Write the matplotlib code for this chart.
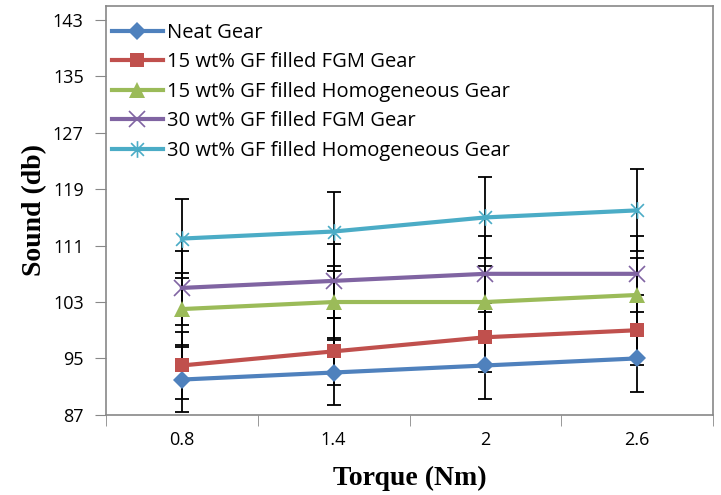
import matplotlib
matplotlib.use("Agg")
import matplotlib.pyplot as plt
from matplotlib.path import Path

torque = ["0.8", "1.4", "2", "2.6"]

neat = [92, 93, 94, 95]
fgm15 = [94, 96, 98, 99]
homo15 = [102, 103, 103, 104]
fgm30 = [105, 106, 107, 107]
homo30 = [112, 113, 115, 116]

# error bars (about +/-5 %)
neat_err = [4.6, 4.65, 4.7, 4.75]
fgm15_err = [4.7, 4.8, 4.9, 4.95]
homo15_err = [5.1, 5.15, 5.15, 5.2]
fgm30_err = [5.25, 5.3, 5.35, 5.35]
homo30_err = [5.6, 5.65, 5.75, 5.8]

labels = ["Neat Gear",
          "15 wt% GF filled FGM Gear",
          "15 wt% GF filled Homogeneous Gear",
          "30 wt% GF filled FGM Gear",
          "30 wt% GF filled Homogeneous Gear"]

# excel-like star marker: x with a vertical bar
star = Path([(-1, -1), (1, 1), (-1, 1), (1, -1), (0, -1.3), (0, 1.3)],
            [Path.MOVETO, Path.LINETO, Path.MOVETO, Path.LINETO, Path.MOVETO, Path.LINETO])

series = [
    (neat, neat_err, "#4F81BD", "D", 9),
    (fgm15, fgm15_err, "#C0504D", "s", 10),
    (homo15, homo15_err, "#9BBB59", "^", 11),
    (fgm30, fgm30_err, "#8064A2", "x", 11),
    (homo30, homo30_err, "#4BACC6", star, 12),
]

fig = plt.figure(figsize=(7.21, 4.95), dpi=100)
ax = fig.add_axes([0.147, 0.162, 0.842, 0.826])

xs = range(len(torque))
for (vals, err, col, mk, ms), lab in zip(series, labels):
    ax.errorbar(xs, vals, yerr=err, fmt="none", ecolor="black",
                elinewidth=1.3, capsize=5, capthick=1.3, zorder=2)
    if mk is star or mk == "x":
        ax.plot(xs, vals, color=col, lw=3, marker=mk, ms=ms, mew=1.2,
                mfc="none", mec=col, label=lab, zorder=3)
    else:
        ax.plot(xs, vals, color=col, lw=3, marker=mk, ms=ms, mew=0,
                mfc=col, label=lab, zorder=3)

ax.set_xlim(-0.5, 3.5)
ax.set_ylim(87, 145)
ax.set_yticks(range(87, 144, 8))
ax.set_xticks(list(xs))
ax.set_xticklabels(torque)
ax.set_xticks([-0.5, 0.5, 1.5, 2.5, 3.5], minor=True)
ax.tick_params(axis="x", which="major", length=0, pad=12, labelsize=13)
ax.tick_params(axis="x", which="minor", length=8, color="#888888", direction="out")
ax.tick_params(axis="y", length=8, color="#888888", direction="out", labelsize=13, pad=8)
for lbl in ax.get_xticklabels() + ax.get_yticklabels():
    lbl.set_family("Open Sans")

for sp in ax.spines.values():
    sp.set_color("#888888")
    sp.set_linewidth(1.2)

ax.set_xlabel("Torque (Nm)", family="Liberation Serif", fontweight="bold",
              fontsize=20, labelpad=12)
ax.set_ylabel("Sound (db)", family="Liberation Serif", fontweight="bold",
              fontsize=20, labelpad=4)

ax.legend(loc="upper left", frameon=False, prop={"family": "Open Sans", "size": 14.5},
          handlelength=2.5, labelspacing=0.47, handletextpad=0.2,
          borderaxespad=0.0, bbox_to_anchor=(-0.003, 0.978))

fig.savefig("out.png", dpi=100)
